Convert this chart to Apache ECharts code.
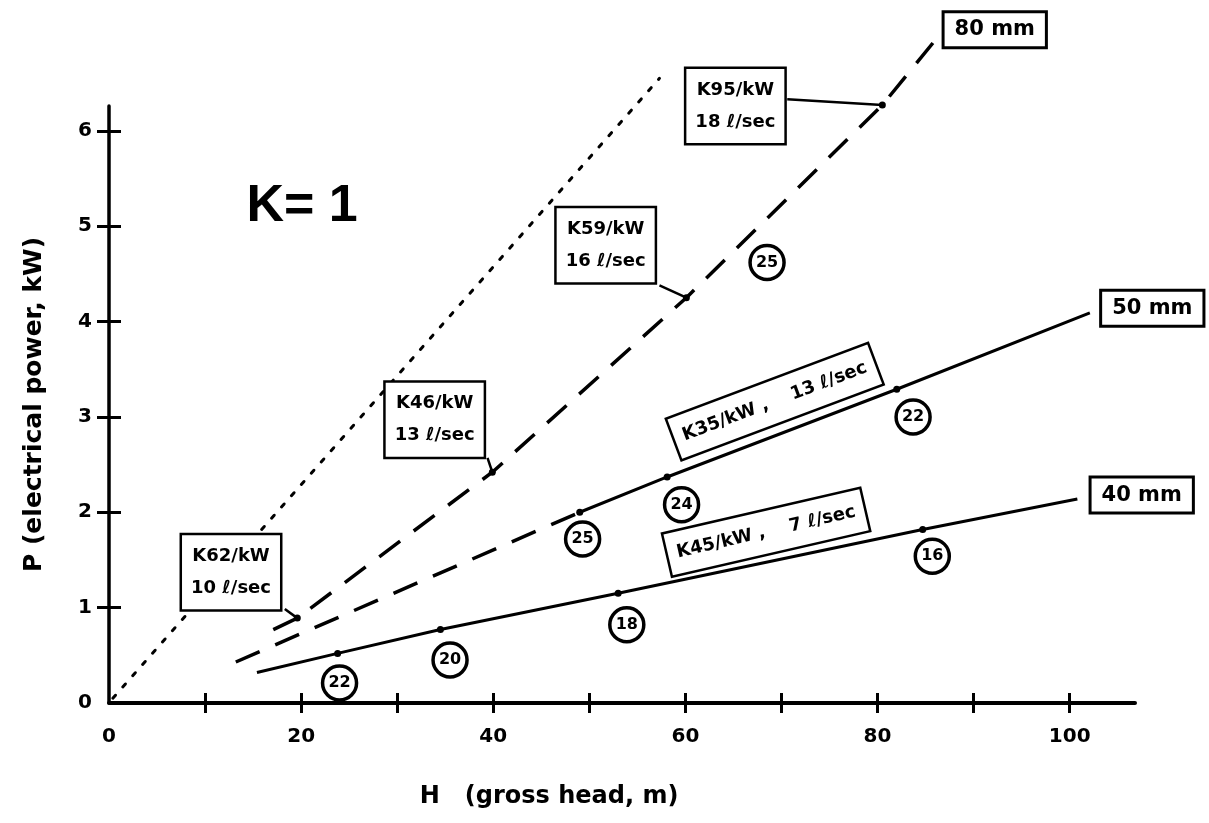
<!DOCTYPE html>
<html><head><meta charset="utf-8">
<script src="https://cdn.jsdelivr.net/npm/echarts@6/dist/echarts.min.js"></script>
<style>html,body{margin:0;background:#fff}#c{width:1209px;height:823px}</style>
</head><body><div id="c"></div>
<script>
// ---- axis ticks / labels ----
const xTickValues = [10,20,30,40,50,60,70,80,90,100];
const xLabelValues = [0,20,40,60,80,100];
const yTickValues = [1,2,3,4,5,6];
const yLabelValues = [0,1,2,3,4,5,6];

// ---- curves (H in m, P in kW) ----
const lineK1 = [[0.4,0.05],[57.3,6.55]];
const line80 = [[17.1,0.77],[19.6,0.89],[39.9,2.42],[60.1,4.25],[80.5,6.27],[86.0,6.95]];
const line50dashed = [[13.2,0.43],[49.0,2.00]];
const line50solid = [[49.0,2.00],[58.1,2.37],[82.0,3.29],[102.1,4.09]];
const line40 = [[15.4,0.32],[23.8,0.52],[34.5,0.77],[53.0,1.15],[84.7,1.82],[100.8,2.14]];
const markedPoints = [[19.6,0.89],[39.9,2.42],[60.1,4.25],[80.5,6.27],[49.0,2.00],[58.1,2.37],[82.0,3.29],[23.8,0.52],[34.5,0.77],[53.0,1.15],[84.7,1.82]];
const circledNumbers = [[68.5,4.62,'25'],[83.7,3.0,'22'],[59.6,2.08,'24'],[49.3,1.72,'25'],[85.7,1.54,'16'],[53.9,0.82,'18'],[35.5,0.45,'20'],[24.0,0.21,'22']];

// ---- annotations ----
const noteTexts = ['K95/kW\n18 ℓ/sec','K59/kW\n16 ℓ/sec','K46/kW\n13 ℓ/sec','K62/kW\n10 ℓ/sec','K35/kW ,    13 ℓ/sec','K45/kW ,    7 ℓ/sec'];
const noteAnchors = [[65.2,6.26],[51.7,4.80],[33.9,2.97],[12.7,1.37],[69.3,3.16],[68.4,1.79]];
const noteAngles = [0,0,0,0,20.6,13];
const diameterTexts = ['80 mm','50 mm','40 mm'];
const diameterAnchors = [[92.2,7.06],[108.6,4.14],[107.5,2.18]];
const leaders = [[[70.6,6.33],[80.5,6.27]],[[57.3,4.38],[60.1,4.25]],[[39.4,2.57],[39.9,2.42]],[[18.3,0.985],[19.6,0.89]]];
const kText = 'K= 1';
const kAnchor = [20.1,5.2];

const FONT = 'DejaVu Sans';
const chart = echarts.init(document.getElementById('c'));
const axisCommon = {type:'value', min:0, splitLine:{show:false}};
const lineBase = {type:'line', showSymbol:false, clip:false, silent:true, animation:false};
const plainLabel = {opacity:1, textBorderWidth:0, textShadowBlur:0, color:'#000'};

chart.setOption({
  animation:false,
  backgroundColor:'#fff',
  grid:{left:109, top:106, width:1026, height:597, containLabel:false, outerBoundsMode:'none'},
  xAxis:[
    Object.assign({}, axisCommon, {max:106.8, position:'bottom',
      name:'H   (gross head, m)', nameLocation:'middle', nameGap:82,
      nameTextStyle:{fontFamily:FONT, fontSize:24, fontWeight:'bold', color:'#000', padding:[0,146,0,0]},
      axisLine:{lineStyle:{color:'#000', width:4}},
      axisTick:{customValues:xTickValues, length:10, lineStyle:{color:'#000', width:3}},
      axisLabel:{customValues:xLabelValues, margin:24, fontFamily:FONT, fontWeight:'bold', fontSize:20, color:'#000'}}),
    Object.assign({}, axisCommon, {max:106.8, position:'bottom',
      axisLine:{show:false},
      axisTick:{inside:true, customValues:xTickValues, length:10, lineStyle:{color:'#000', width:3}},
      axisLabel:{show:false}})
  ],
  yAxis:[
    Object.assign({}, axisCommon, {max:6.26, position:'left',
      name:'P (electrical power, kW)', nameLocation:'middle', nameGap:62, nameRotate:90,
      nameTextStyle:{fontFamily:FONT, fontSize:25, fontWeight:'bold', color:'#000'},
      axisLine:{lineStyle:{color:'#000', width:3.5}},
      axisTick:{customValues:yTickValues, length:12, lineStyle:{color:'#000', width:3}},
      axisLabel:{customValues:yLabelValues, margin:17, fontFamily:FONT, fontWeight:'bold', fontSize:20, color:'#000'}}),
    Object.assign({}, axisCommon, {max:6.26, position:'left',
      axisLine:{show:false},
      axisTick:{inside:true, customValues:yTickValues, length:12, lineStyle:{color:'#000', width:3}},
      axisLabel:{show:false}})
  ],
  series:[
    Object.assign({}, lineBase, {data:lineK1, lineStyle:{color:'#000', width:3, type:[4,11], cap:'round'}}),
    Object.assign({}, lineBase, {data:line80, lineStyle:{color:'#000', width:3.5, type:[26,17]}}),
    Object.assign({}, lineBase, {data:line50dashed, lineStyle:{color:'#000', width:3.5, type:[26,17]}}),
    Object.assign({}, lineBase, {data:line50solid, lineStyle:{color:'#000', width:3}}),
    Object.assign({}, lineBase, {data:line40, lineStyle:{color:'#000', width:3}}),
    {type:'lines', coordinateSystem:'cartesian2d', silent:true, animation:false, clip:false,
      data:leaders.map(c=>({coords:c})), lineStyle:{color:'#000', width:2.5, opacity:1}},
    {type:'scatter', clip:false, silent:true, animation:false, symbolSize:7, itemStyle:{color:'#000', opacity:1}, data:markedPoints, z:3},
    {type:'scatter', clip:false, silent:true, animation:false, symbol:'circle', symbolSize:34, z:4,
      itemStyle:{color:'#fff', borderColor:'#000', borderWidth:3.5, opacity:1},
      label:Object.assign({show:true, position:'inside', formatter:p=>p.data[2], fontFamily:FONT, fontWeight:'bold', fontSize:16}, plainLabel),
      data:circledNumbers},
    {type:'scatter', clip:false, silent:true, animation:false, symbolSize:1, z:5,
      itemStyle:{color:'#fff', opacity:1},
      label:Object.assign({show:true, position:'inside', fontFamily:FONT, fontWeight:'bold', fontSize:18,
        lineHeight:32, padding:[6,9,4,9], borderColor:'#000', borderWidth:2.5, backgroundColor:'#fff',
        formatter:p=>noteTexts[p.dataIndex]}, plainLabel),
      data:noteAnchors.map((v,i)=>({value:v, label:{rotate:noteAngles[i]}}))},
    {type:'scatter', clip:false, silent:true, animation:false, symbolSize:1, z:5,
      itemStyle:{color:'#fff', opacity:1},
      label:Object.assign({show:true, position:'inside', fontFamily:FONT, fontWeight:'bold', fontSize:21,
        padding:[7,10,5,10], borderColor:'#000', borderWidth:3, backgroundColor:'#fff',
        formatter:p=>diameterTexts[p.dataIndex]}, plainLabel),
      data:diameterAnchors},
    {type:'scatter', clip:false, silent:true, animation:false, symbolSize:1, z:5,
      itemStyle:{color:'#fff', opacity:1},
      label:Object.assign({show:true, position:'inside', fontFamily:'Liberation Sans', fontWeight:'bold', fontSize:52, formatter:()=>kText}, plainLabel),
      data:[kAnchor]}
  ]
});
</script></body></html>
